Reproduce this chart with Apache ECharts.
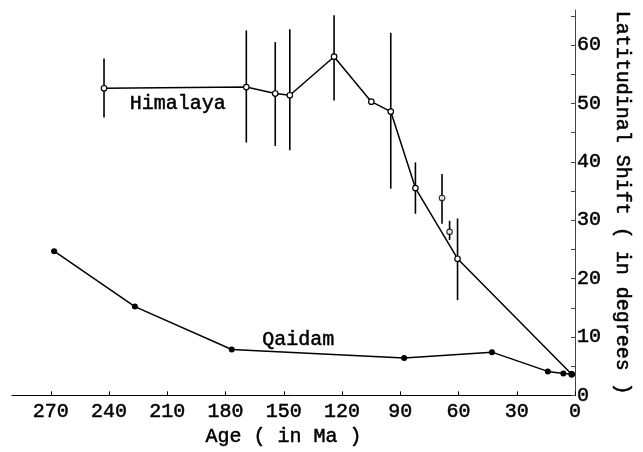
<!DOCTYPE html>
<html>
<head>
<meta charset="utf-8">
<script src="https://cdn.jsdelivr.net/npm/echarts@6/dist/echarts.min.js"></script>
<style>
  html, body { margin: 0; padding: 0; background: #fff; }
  #chart { width: 643px; height: 452px; }
</style>
</head>
<body>
<div id="chart"></div>
<script>
// Himalaya (connected points, open circles), with error bar ranges
var himAge   = [242.6, 169.3, 154.4, 146.9, 124.1, 104.9, 94.9, 82.2, 60.5, 1.7];
var himShift = [52.6, 52.8, 51.7, 51.4, 58.0, 50.3, 48.6, 35.5, 23.4, 3.6];
var himLow   = [47.6, 43.3, 42.7, 42.0, 50.5, null, 35.4, 31.1, 16.3, null];
var himHigh  = [57.7, 62.5, 60.5, 62.7, 65.1, null, 62.1, 39.9, 30.3, null];

// Himalaya points not on the line
var isoAge   = [68.5, 64.6];
var isoShift = [33.8, 28.0];
var isoLow   = [29.4, 26.6];
var isoHigh  = [37.9, 29.9];

// Qaidam (filled dots)
var qaiAge   = [268.3, 226.7, 176.8, 88.0, 42.8, 14.0, 6.0, 1.7];
var qaiShift = [24.7, 15.2, 7.85, 6.4, 7.4, 4.1, 3.75, 3.65];

// tick values
var ageTicks   = [0, 30, 60, 90, 120, 150, 180, 210, 240, 270];
var shiftTicks = [0, 5, 10, 15, 20, 25, 30, 35, 40, 45, 50, 55, 60, 65];
var shiftLabels = [0, 10, 20, 30, 40, 50, 60];

// series labels placed in data space
var labelNames = ['Himalaya', 'Qaidam'];
var labelAge   = [204.6, 142.5];
var labelShift = [50.0, 9.6];

var FONT = '"Liberation Mono", monospace';
// slightly heavier strokes, like the printed figure
var TXT = { fontFamily: FONT, fontSize: 20, color: '#000', textBorderColor: '#000', textBorderWidth: 0.5 };

function pairs(xs, ys) {
  return xs.map(function (x, i) { return [x, ys[i]]; });
}

var bars = [];
himAge.forEach(function (a, i) {
  if (himLow[i] != null) bars.push([a, himLow[i], himHigh[i]]);
});
isoAge.forEach(function (a, i) {
  bars.push([a, isoLow[i], isoHigh[i]]);
});

var chart = echarts.init(document.getElementById('chart'));

var option = {
  animation: false,
  grid: { left: 12, right: 68, top: 10, bottom: 56 },
  xAxis: {
    type: 'value',
    min: 0,
    max: 290,
    inverse: true,
    name: 'Age ( in Ma )',
    nameLocation: 'middle',
    nameGap: 17,
    nameTextStyle: Object.assign({ padding: [0, 20, 0, 0] }, TXT),
    axisLine: { show: true, lineStyle: { color: '#000', width: 1 } },
    axisTick: { show: true, inside: true, length: 4, customValues: ageTicks, lineStyle: { color: '#000' } },
    axisLabel: Object.assign({ customValues: ageTicks, margin: 6 }, TXT),
    splitLine: { show: false }
  },
  yAxis: {
    type: 'value',
    position: 'right',
    min: 0,
    max: 66,
    name: 'Latitudinal Shift ( in degrees )',
    nameLocation: 'middle',
    nameRotate: -90,
    nameGap: 37,
    nameTextStyle: TXT,
    axisLine: { show: true, lineStyle: { color: '#444', width: 1 } },
    axisTick: { show: true, inside: true, length: 4, customValues: shiftTicks, lineStyle: { color: '#444' } },
    axisLabel: Object.assign({ customValues: shiftLabels, margin: 2 }, TXT),
    splitLine: { show: false }
  },
  series: [
    {
      type: 'custom',
      z: 1,
      data: bars,
      encode: { x: 0, y: [1, 2] },
      renderItem: function (params, api) {
        var p1 = api.coord([api.value(0), api.value(1)]);
        var p2 = api.coord([api.value(0), api.value(2)]);
        return {
          type: 'line',
          shape: { x1: p1[0], y1: p1[1], x2: p2[0], y2: p2[1] },
          style: { stroke: '#000', lineWidth: 1.6 }
        };
      }
    },
    {
      name: 'Himalaya',
      type: 'line',
      z: 3,
      data: pairs(himAge, himShift),
      symbol: 'circle',
      symbolSize: 5.5,
      showAllSymbol: true,
      lineStyle: { color: '#000', width: 1.5 },
      itemStyle: { color: '#fff', borderColor: '#000', borderWidth: 1.2 },
      markPoint: {
        symbol: 'circle',
        symbolSize: 0,
        label: Object.assign({
          show: true,
          position: 'inside',
          formatter: function (p) { return p.name; }
        }, TXT),
        data: labelNames.map(function (n, i) {
          return { name: n, coord: [labelAge[i], labelShift[i]] };
        })
      }
    },
    {
      name: 'Himalaya isolated',
      type: 'scatter',
      z: 3,
      data: pairs(isoAge, isoShift),
      symbol: 'circle',
      symbolSize: 5.5,
      itemStyle: { color: '#fff', borderColor: '#000', borderWidth: 1.2 }
    },
    {
      name: 'Qaidam',
      type: 'line',
      z: 4,
      data: pairs(qaiAge, qaiShift),
      symbol: 'circle',
      symbolSize: 6,
      showAllSymbol: true,
      lineStyle: { color: '#000', width: 1.5 },
      itemStyle: { color: '#000' }
    }
  ]
};

chart.setOption(option);
</script>
</body>
</html>
